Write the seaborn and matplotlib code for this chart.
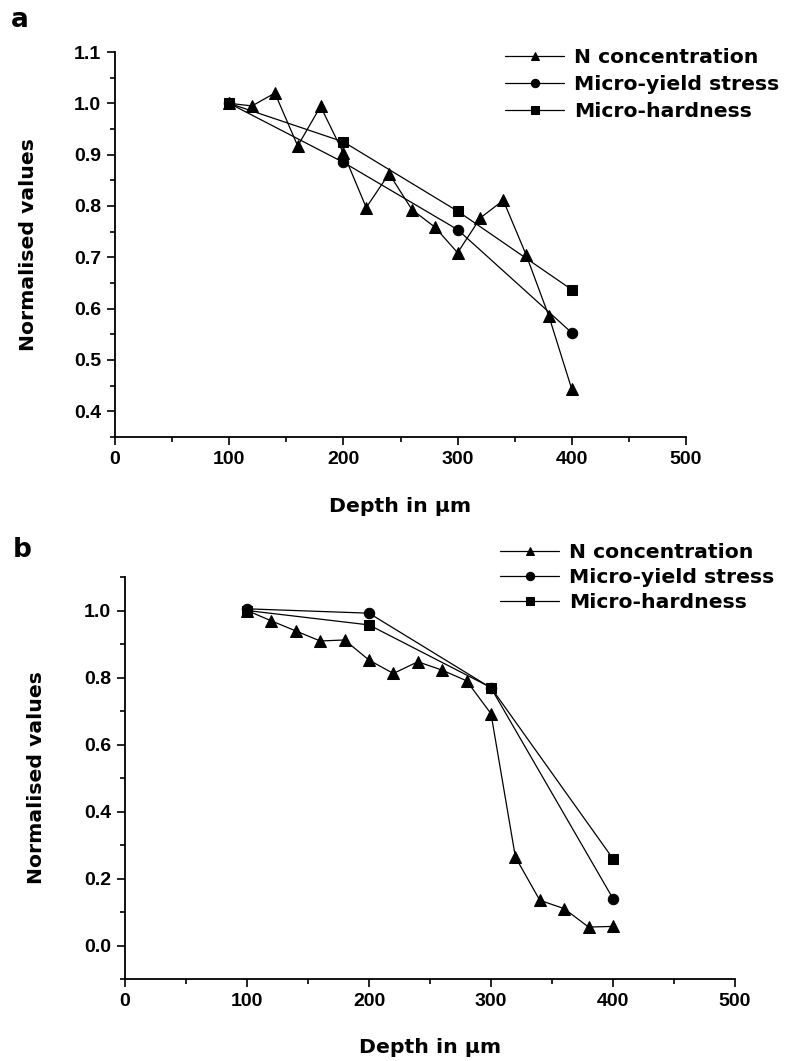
import pandas as pd
import seaborn as sns
import matplotlib.pyplot as plt
from matplotlib.ticker import MultipleLocator, FormatStrFormatter

# panel a
depth_n_a = [100, 120, 140, 160, 180, 200, 220, 240, 260, 280, 300, 320, 340, 360, 380, 400]
n_conc_a = [1.0, 0.995, 1.02, 0.917, 0.994, 0.903, 0.797, 0.863, 0.793, 0.759, 0.709, 0.777, 0.811, 0.705, 0.585, 0.443]
depth_mech_a = [100, 200, 300, 400]
yield_a = [1.0, 0.885, 0.754, 0.553]
hard_a = [1.0, 0.925, 0.79, 0.637]

# panel b
depth_n_b = [100, 120, 140, 160, 180, 200, 220, 240, 260, 280, 300, 320, 340, 360, 380, 400]
n_conc_b = [1.0, 0.969, 0.939, 0.909, 0.912, 0.852, 0.812, 0.847, 0.822, 0.79, 0.692, 0.264, 0.135, 0.11, 0.055, 0.057]
depth_mech_b = [100, 200, 300, 400]
yield_b = [1.005, 0.992, 0.769, 0.14]
hard_b = [1.0, 0.957, 0.77, 0.259]

labels = ["N concentration", "Micro-yield stress", "Micro-hardness"]

sns.set_style("ticks")
plt.rcParams['font.family'] = ['DejaVu Sans']
for k in ['axes.edgecolor', 'text.color', 'axes.labelcolor', 'xtick.color', 'ytick.color']:
    plt.rcParams[k] = 'black'

TXT = dict(family='DejaVu Sans', weight='bold', size=14.7)
TICK = dict(family='Liberation Sans', weight='bold', size=14)

fig = plt.figure(figsize=(7.9, 10.61), dpi=100)
ax_a = fig.add_axes([115/790, 1-437/1061, 571/790, 385/1061])
ax_b = fig.add_axes([125/790, 1-979/1061, 610/790, 402/1061])


def draw(ax, dn, nc, dm, ys, hs):
    sns.lineplot(x=dn, y=nc, ax=ax, color='black', marker='^', markersize=8,
                 linewidth=0.9, markeredgecolor='black', label=labels[0])
    sns.lineplot(x=dm, y=ys, ax=ax, color='black', marker='o', markersize=7.5,
                 linewidth=0.9, markeredgecolor='black', label=labels[1])
    sns.lineplot(x=dm, y=hs, ax=ax, color='black', marker='s', markersize=7,
                 linewidth=0.9, markeredgecolor='black', label=labels[2])
    ax.get_legend().remove()
    for s in ['top', 'right']:
        ax.spines[s].set_visible(False)
    for s in ['left', 'bottom']:
        ax.spines[s].set_linewidth(1.3)
    ax.set_xlim(0, 500)
    ax.xaxis.set_major_locator(MultipleLocator(100))
    ax.xaxis.set_minor_locator(MultipleLocator(50))
    ax.tick_params(which='major', direction='out', length=6, width=1.2, pad=4)
    ax.tick_params(which='minor', direction='out', length=3.5, width=1.2)
    ax.set_xlabel('Depth in μm', **TXT)
    ax.set_ylabel('Normalised values', **TXT)


draw(ax_a, depth_n_a, n_conc_a, depth_mech_a, yield_a, hard_a)
ax_a.set_ylim(0.35, 1.1)
ax_a.yaxis.set_major_locator(MultipleLocator(0.1))
ax_a.yaxis.set_minor_locator(MultipleLocator(0.05))
ax_a.yaxis.set_major_formatter(FormatStrFormatter('%.1f'))
ax_a.set_xticks([0, 100, 200, 300, 400, 500])
for t in ax_a.get_xticklabels() + ax_a.get_yticklabels():
    t.set_fontproperties(TICK)
ax_a.xaxis.set_label_coords(0.5, -0.155)
ax_a.yaxis.set_label_coords(-0.135, 0.5)

draw(ax_b, depth_n_b, n_conc_b, depth_mech_b, yield_b, hard_b)
ax_b.set_ylim(-0.1, 1.1)
ax_b.set_yticks([0.0, 0.2, 0.4, 0.6, 0.8, 1.0])
ax_b.yaxis.set_minor_locator(MultipleLocator(0.1))
ax_b.yaxis.set_major_formatter(FormatStrFormatter('%.1f'))
ax_b.set_xticks([0, 100, 200, 300, 400, 500])
for t in ax_b.get_xticklabels() + ax_b.get_yticklabels():
    t.set_fontproperties(TICK)
ax_b.xaxis.set_label_coords(0.5, -0.148)
ax_b.yaxis.set_label_coords(-0.13, 0.5)

for ax, x0, y0, sp in [(ax_a, 505, 48, 0.4), (ax_b, 500, 543, 0.3)]:
    h, l = ax.get_legend_handles_labels()
    ax.legend(h, l, loc='upper left', bbox_to_anchor=(x0/790, 1-y0/1061),
              bbox_transform=fig.transFigure, frameon=False, borderpad=0,
              borderaxespad=0, handlelength=2.9, handletextpad=0.5,
              labelspacing=sp, markerscale=0.8, prop=TXT)

fig.text(20/790, 1-20/1061, 'a', ha='center', va='center', family='DejaVu Sans', weight='bold', size=19)
fig.text(22/790, 1-550/1061, 'b', ha='center', va='center', family='DejaVu Sans', weight='bold', size=19)

fig.savefig('out.png', dpi=100)
